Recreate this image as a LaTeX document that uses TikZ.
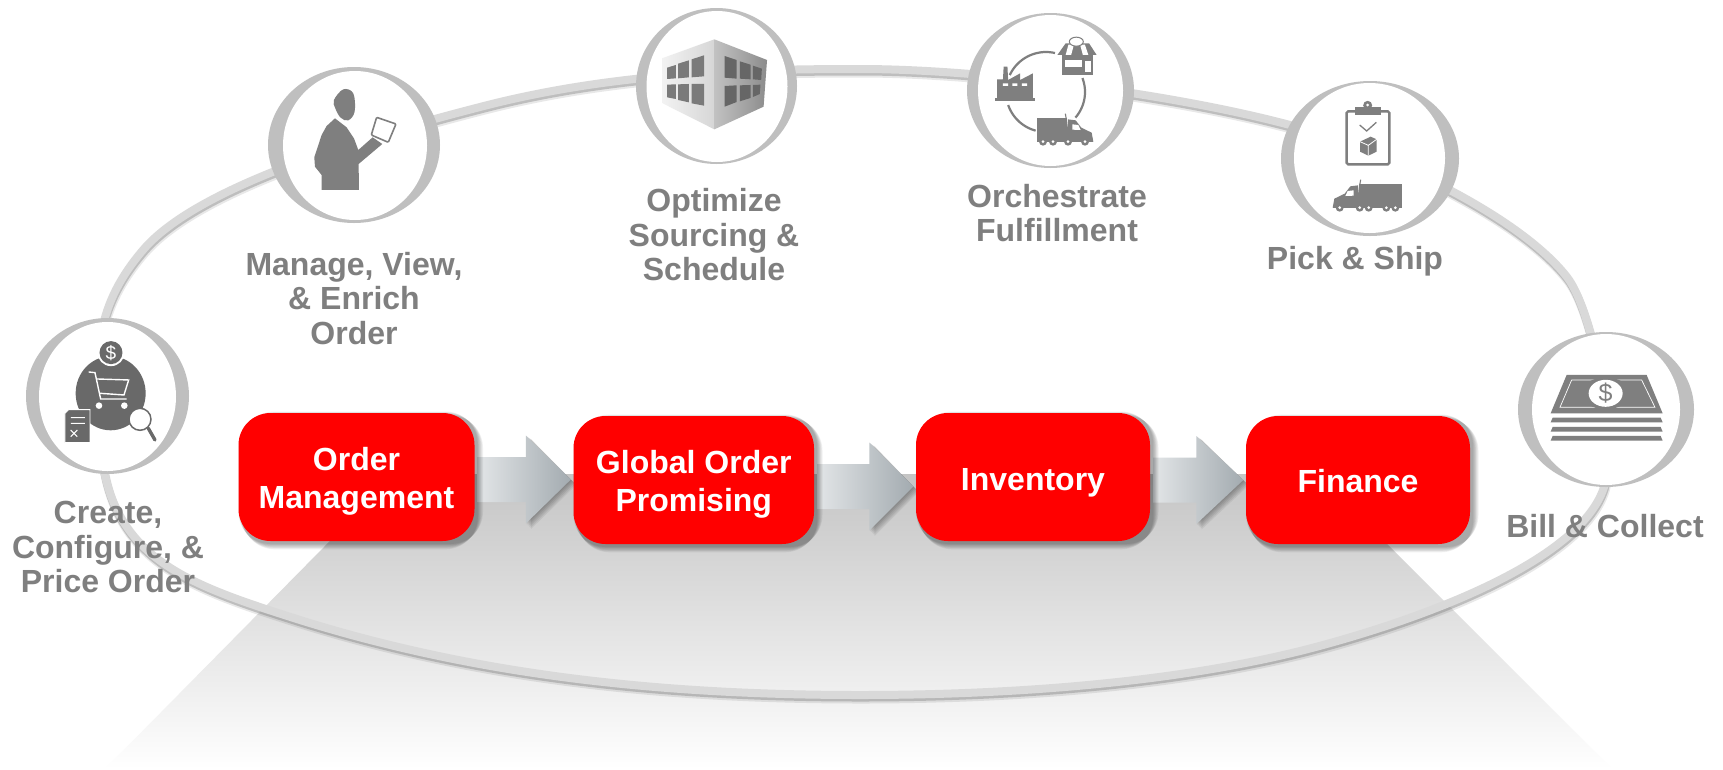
\documentclass[tikz,border=0pt]{standalone}
\usepackage{fontspec}
\setmainfont{Liberation Sans}
\usetikzlibrary{calc,shapes.geometric}
\definecolor{ringg}{HTML}{BFBFBF}
\definecolor{bandg}{HTML}{D9D9D9}
\definecolor{labelg}{HTML}{7F7F7F}
\definecolor{icong}{HTML}{7F7F7F}
\definecolor{darkg}{HTML}{696969}
\definecolor{boxred}{HTML}{FF0000}
\definecolor{arrowl}{HTML}{E2E5E7}
\definecolor{arrowr}{HTML}{A3ABB0}
\tikzset{
  zc/.style n args={3}{shift={(#1pt,-#2pt)},x=#3pt,y=-.3333pt},
  ringo/.style={ellipse,fill=ringg,inner sep=0pt},
  ringi/.style={ellipse,fill=white,inner sep=0pt},
  steplabel/.style={text=labelg,align=center,font=\fontsize{32}{34.5}\selectfont\bfseries,inner sep=0pt},
  redbox/.style={fill=boxred,rounded corners=32pt,inner sep=0pt,minimum height=128pt},
  redtext/.style={text=white,align=center,font=\fontsize{32}{38}\selectfont\bfseries,inner sep=0pt},
}
\newcommand{\bandpath}{(860,695) .. controls (650,695) and (470,673) .. (300,620)
  .. controls (190,585) and (112,560) .. (101,450)
  .. controls (91,350) and (98,303) .. (143,250)
  .. controls (193,191) and (340,143) .. (480,107)
  .. controls (610,73) and (740,69) .. (860,69)
  .. controls (980,69) and (1170,93) .. (1290,125)
  .. controls (1380,151) and (1517,213) .. (1567,277)
  .. controls (1595,313) and (1618,452) .. (1603,490)
  .. controls (1577,560) and (1433,615) .. (1323,645)
  .. controls (1203,678) and (1040,695) .. (860,695) -- cycle}
\newcommand{\softshadow}[1]{%
  \foreach \k in {1,...,7}{
    \fill[black,opacity=.055,rounded corners=32pt]
      ($(#1.south west)+({5-\k*.7},{9-\k*.9})$) rectangle ($(#1.north east)+({2+\k*.9},{-2+\k*.7})$);
  }}
\newcommand{\blockarrow}[5]{% from, to, dy from, dy to, head length
  \coordinate (t) at ($(#1.east)+(3,#3)$);
  \coordinate (p) at ($(#2.west)+(-2.5,#4)$);
  \foreach \k in {1,...,6}{
    \fill[black,opacity=.06] ($(p)+({-#5+\k*.9},{-44+\k*.6})$) -- ($(p)+(\k*.9,\k*.9)$) -- ($(p)+({-#5+\k*.9},{44+\k*.9})$) -- cycle;
  }
  \path[left color=arrowl,right color=arrowr]
    ($(t)+(0,-22.5)$) -- ($(p)+(-#5,-22.5)$) -- ($(p)+(-#5,-44)$) -- (p) -- ($(p)+(-#5,44)$) -- ($(p)+(-#5,22.5)$) -- ($(t)+(0,22.5)$) -- cycle;
}
\newcommand{\truckicon}[5]{% center x, center y, xscale, box end, wheels
  \begin{scope}[shift={(#1pt,-#2pt)},xscale=#3,x=.3333pt,y=-.3333pt,shift={(-350,-380)}]
    \fill[icong] (325,342) -- (#4,342) -- (#4,410) -- (325,410) -- cycle;
    \fill[icong] (330,412) -- (323,345) -- (300,348) -- (283,370) -- (252,385) -- (247,412) -- cycle;
    \draw[icong,line width=1.1pt] (328,345) -- (331,328);
    \fill[white] (292,362) -- (310,360) -- (310,376) -- (285,377) -- cycle;
    \fill[icong] (247,405) rectangle (#4,414);
    \foreach \w in {#5}{
      \fill[icong] (\w,412) circle[radius=4pt];
      \fill[white] (\w,412) circle[radius=1.5pt];
    }
  \end{scope}}
\begin{document}
\begin{tikzpicture}[x=1pt,y=-1pt]
\useasboundingbox (0,0) rectangle (1723,769);
\fill[white] (0,0) rectangle (1723,769);
% floor
\path[top color=black!23,bottom color=white] (396,474) -- (1317,474) -- (1612,769) -- (105,769) -- cycle;
% band
\begin{scope}[shift={(1pt,-4pt)}]\draw[gray,opacity=.18,line width=9pt] \bandpath;\end{scope}
\begin{scope}[shift={(.5pt,-2.5pt)}]\draw[gray,opacity=.4,line width=8pt] \bandpath;\end{scope}
\draw[bandg,line width=8pt] \bandpath;
% rings
\node[ringo,minimum width=163pt,minimum height=156pt] (r1) at (107.5,396) {};
\node[ringi,minimum width=137pt,minimum height=149pt] (i1) at (107.5,396.5) {};
\node[ringo,minimum width=172pt,minimum height=156pt] (r2) at (354,145) {};
\node[ringi,minimum width=144pt,minimum height=149pt] (i2) at (355,145.5) {};
\node[ringo,minimum width=161pt,minimum height=156pt] (r3) at (716.5,86) {};
\node[ringi,minimum width=141pt,minimum height=151pt] (i3) at (717,86.5) {};
\node[ringo,minimum width=167pt,minimum height=155pt] (r4) at (1050.5,90.5) {};
\node[ringi,minimum width=145pt,minimum height=151pt] (i4) at (1050.5,90.5) {};
\node[ringo,minimum width=178pt,minimum height=155pt] (r5) at (1370,158.5) {};
\node[ringi,minimum width=151pt,minimum height=150pt] (i5) at (1369.5,158) {};
\node[ringo,minimum width=176pt,minimum height=155pt] (r6) at (1606,409.5) {};
\node[ringi,minimum width=148pt,minimum height=151pt] (i6) at (1606,409.5) {};
% Create icon
\begin{scope}[zc={0}{50}{.3333}]
  \fill[darkg] (332,1030) ellipse[x radius=35pt,y radius=37pt];
  \fill[white] (333,908) circle[radius=13.5pt];
  \fill[darkg] (333,908) circle[radius=11.5pt];
  \node[text=white,inner sep=0pt,font=\fontsize{19}{19}\selectfont] (dollar1) at (333,908) {\$};
  \draw[white,line width=1.4pt] (266,966) -- (285,968) -- (302,1047) -- (380,1047);
  \draw[white,line width=1.4pt] (290,987) -- (386,990) -- (372,1035) -- (300,1030);
  \fill[white] (297,1067) circle[radius=3.3pt] (373,1067) circle[radius=3.3pt];
  \fill[darkg,draw=white,line width=.8pt] (195,1090) -- (206,1079) -- (270,1079) -- (270,1178) -- (195,1178) -- cycle;
  \draw[white,line width=1.1pt] (213,1103) -- (255,1103) (213,1120) -- (255,1120) (212,1140) -- (232,1160) (232,1140) -- (212,1160);
  \draw[darkg,line width=3.4pt,line cap=round] (445,1135) -- (465,1170);
  \fill[white,draw=darkg,line width=1.5pt] (420,1108) circle[radius=11pt];
\end{scope}
% Person icon
\begin{scope}[zc={0}{50}{.3333}]
  \fill[icong] plot[smooth cycle,tension=.6] coordinates {(1002,150)(1030,118)(1060,130)(1064,185)(1045,211)(1022,203)(1006,175)};
  \fill[icong] (1005,205) -- (1040,232) -- (1062,265) -- (1075,300) -- (1118,262) -- (1147,282) -- (1076,342) -- (1077,420) -- (965,420) -- (965,375) -- (945,350) -- (943,322) -- (965,255) -- (980,228) -- cycle;
  \fill[white,draw=icong,line width=1.6pt,rounded corners=1pt] (1130,202) -- (1188,222) -- (1165,277) -- (1114,255) -- cycle;
\end{scope}
% Building icon
\begin{scope}[zc={600}{0}{.3444}]
  \path[left color=black!5,right color=black!16] (180,175) -- (332,118) -- (332,388) -- (182,310) -- cycle;
  \path[left color=black!24,right color=black!45] (332,118) -- (485,180) -- (475,320) -- (332,388) -- cycle;
  \fill[black!52] (195,203) -- (220,195) -- (220,235) -- (195,237) -- cycle;
  \fill[black!52] (227,191) -- (258,181) -- (258,232) -- (227,235) -- cycle;
  \fill[black!52] (266,178) -- (302,166) -- (302,229) -- (266,232) -- cycle;
  \fill[black!52] (195,254) -- (220,253) -- (220,297) -- (195,292) -- cycle;
  \fill[black!52] (227,253) -- (258,252) -- (258,307) -- (227,300) -- cycle;
  \fill[black!52] (266,252) -- (302,252) -- (302,317) -- (266,310) -- cycle;
  \fill[black!60] (362,168) -- (397,180) -- (397,236) -- (362,233) -- cycle;
  \fill[black!60] (406,184) -- (437,194) -- (437,238) -- (406,236) -- cycle;
  \fill[black!60] (444,197) -- (470,206) -- (468,240) -- (444,238) -- cycle;
  \fill[black!60] (362,258) -- (397,256) -- (397,306) -- (362,320) -- cycle;
  \fill[black!60] (406,256) -- (437,255) -- (437,294) -- (406,304) -- cycle;
  \fill[black!60] (444,255) -- (466,254) -- (464,282) -- (444,291) -- cycle;
\end{scope}
% Orchestrate icon
\draw[icong,line width=2.2pt] plot[domain=155:77,samples=24] ({1046+40*cos(\x)},{92-40*sin(\x)});
\draw[icong,line width=2.2pt] plot[domain=21:-41,samples=24] ({1046+39*cos(\x)},{92-39*sin(\x)});
\draw[icong,line width=2.2pt] plot[domain=-105:-161,samples=24] ({1046+40*cos(\x)},{92-40*sin(\x)});
\begin{scope}[zc={600}{0}{.3444}]
  % factory
  \fill[icong] (1168,300) -- (1153,295) -- (1153,238) -- (1170,238) -- (1172,200) -- (1183,200) -- (1185,240) -- (1220,220) -- (1220,240) -- (1257,220) -- (1257,295) -- cycle;
  \fill[icong] (1148,293) rectangle (1262,303);
  \fill[white] (1170,250) rectangle (1185,258) (1197,250) rectangle (1212,258) (1225,250) rectangle (1240,258);
  % store
  \fill[icong] (1352,130) -- (1420,130) -- (1442,165) -- (1328,165) -- cycle;
  \fill[icong] (1342,165) rectangle (1430,226);
  \fill[white] (1350,180) rectangle (1400,201);
  \fill[white] (1408,182) rectangle (1425,215);
  \fill[white] (1360,134) -- (1352,165) -- (1368,165) -- (1376,134) -- cycle;
  \fill[white] (1394,134) -- (1402,165) -- (1418,165) -- (1408,134) -- cycle;
  \fill[white,draw=icong,line width=1pt] (1383,125) ellipse[x radius=7pt,y radius=4.5pt];
\end{scope}
\truckicon{1059}{131}{-1}{415}{272,323,368,398}
% Pick icon
\begin{scope}[zc={1250}{70}{.3333}]
  \draw[icong,line width=2.4pt,rounded corners=1.5pt] (315,124) -- (290,124) -- (290,283) -- (418,283) -- (418,124) -- (392,124);
  \fill[icong] (315,110) rectangle (392,135);
  \fill[icong] (353,106) circle[radius=4.5pt];
  \fill[white] (353,105) circle[radius=1.5pt];
  \draw[icong,line width=1.3pt] (329,165) -- (350,183) -- (379,157);
  \fill[icong] (330,215) -- (362,200) -- (380,208) -- (380,245) -- (355,257) -- (330,245) -- cycle;
  \draw[white,line width=.8pt] (330,215) -- (355,226) -- (380,208) (355,226) -- (355,257);
\end{scope}
\truckicon{1367}{197}{1}{455}{268,328,355,408,435}
% Money icon
\begin{scope}[zc={1250}{70}{.3333}]
  \fill[icong] (950,915) -- (1190,915) -- (1238,1030) -- (902,1030) -- cycle;
  \draw[white,line width=.7pt] (965,930) -- (1175,930) -- (1215,1012) -- (930,1012) -- cycle;
  \fill[icong] (1067,970) ellipse[x radius=24pt,y radius=16pt];
  \fill[white] (1067,970) ellipse[x radius=17pt,y radius=13.5pt];
  \node[text=icong,inner sep=0pt,font=\fontsize{25}{25}\selectfont] (dollar2) at (1067,968) {\$};
  \fill[icong] (908,1043) -- (1232,1043) -- (1238,1057) -- (902,1057) -- cycle;
  \fill[icong] (908,1071) -- (1232,1071) -- (1238,1085) -- (902,1085) -- cycle;
  \fill[icong] (908,1098) -- (1232,1098) -- (1238,1112) -- (902,1112) -- cycle;
\end{scope}
% labels
\node[steplabel] (l1) at (108,547) {Create,\\Configure, \&\\Price Order};
\node[steplabel] (l2) at (354,298.5) {Manage, View,\\\& Enrich\\Order};
\node[steplabel] (l3) at (714,235) {Optimize\\Sourcing \&\\Schedule};
\node[steplabel] (l4) at (1057,213) {Orchestrate\\Fulfillment};
\node[steplabel] (l5) at (1355,261) {Pick \& Ship};
\node[steplabel] (l6) at (1605,526) {Bill \& Collect};
% boxes
\node[redbox,fill=none,minimum width=236pt] (g1) at (356.5,477) {};
\node[redbox,fill=none,minimum width=240.5pt] (g2) at (693.75,480) {};
\node[redbox,fill=none,minimum width=234pt] (g3) at (1033,477) {};
\node[redbox,fill=none,minimum width=224pt] (g4) at (1358,480) {};
\blockarrow{g1}{g2}{2.5}{-.5}{45}
\blockarrow{g2}{g3}{6.5}{9.5}{44}
\blockarrow{g3}{g4}{3}{0}{47}
\softshadow{g1}
\softshadow{g2}
\softshadow{g3}
\softshadow{g4}
\node[redbox,minimum width=236pt] (b1) at (g1) {};
\node[redbox,minimum width=240.5pt] (b2) at (g2) {};
\node[redbox,minimum width=234pt] (b3) at (g3) {};
\node[redbox,minimum width=224pt] (b4) at (g4) {};
\node[redtext] (t1) at ($(b1)+(0,4.5)$) {Order\\Management};
\node[redtext] (t2) at ($(b2)+(0,4.5)$) {Global Order\\Promising};
\node[redtext] (t3) at ($(b3)+(0,5.5)$) {Inventory};
\node[redtext] (t4) at ($(b4)+(0,1)$) {Finance};
\end{tikzpicture}
\end{document}
